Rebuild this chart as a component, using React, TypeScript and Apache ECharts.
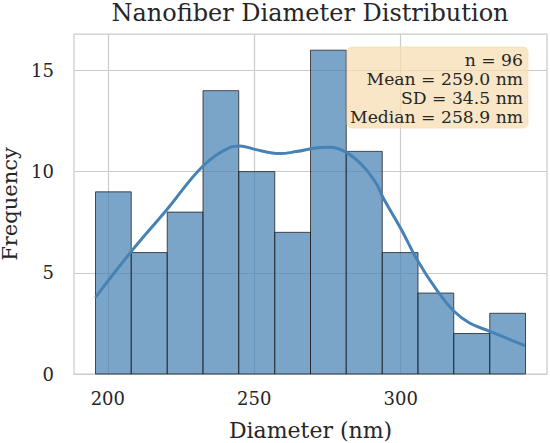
import React, { useEffect, useRef } from "react";
import * as echarts from "echarts";

// Histogram bin edges (nm) and counts per bin
const binEdges = [195.8, 208.0, 220.3, 232.5, 244.7, 257.0, 269.2, 281.4, 293.7, 305.9, 318.1, 330.4, 342.6];
const counts = [9, 6, 8, 14, 10, 7, 16, 11, 6, 4, 2, 3];

// Kernel density estimate, scaled to counts
const kdeX = [195.8, 208.1, 220.2, 232.5, 241.6, 245.1, 250.2, 258.7, 264.4, 272.4, 275.8, 281.5, 287.1, 291.7, 294.0, 300.2, 305.9, 312.2, 318.2, 323.5, 330.4, 342.4];
const kdeY = [3.79, 6.07, 8.13, 10.28, 11.19, 11.27, 11.1, 10.89, 10.99, 11.19, 11.2, 10.94, 10.28, 9.4, 8.71, 7.14, 5.57, 4.17, 3.1, 2.52, 2.11, 1.4];

const xTicks = [200, 250, 300];
const yTicks = [0, 5, 10, 15];

const statLines = ["n = 96", "Mean = 259.0 nm", "SD = 34.5 nm", "Median = 258.9 nm"];

const FONT = "DejaVu Serif";
const TEXT = "#262626";
const GRID = "#cccccc";

export default function App() {
  const ref = useRef<HTMLDivElement>(null);

  useEffect(() => {
    if (!ref.current) return;
    const chart = echarts.init(ref.current, null, { renderer: "svg" });

    const bars = counts.map((c, i) => [binEdges[i], binEdges[i + 1], c]);
    const kde = kdeX.map((x, i) => [x, kdeY[i]]);

    const boxLeft = 347;
    const boxTop = 47;
    const boxW = 181;
    const boxH = 81;

    chart.setOption({
      animation: false,
      backgroundColor: "#ffffff",
      textStyle: { fontFamily: FONT },
      grid: {
        left: 74,
        right: 3,
        top: 34,
        bottom: 69,
        containLabel: false,
        outerBoundsMode: "none",
        show: true,
        borderColor: GRID,
        borderWidth: 1.25,
        backgroundColor: "transparent",
      },
      xAxis: {
        type: "value",
        min: 188.46,
        max: 349.94,
        name: "Diameter (nm)",
        nameLocation: "middle",
        nameGap: 45,
        nameTextStyle: { fontFamily: FONT, fontSize: 22, color: TEXT },
        axisLine: { show: false },
        axisTick: { show: false, customValues: xTicks },
        axisLabel: { customValues: xTicks, fontFamily: FONT, fontSize: 18, color: TEXT, margin: 15 },
        splitLine: { show: true, lineStyle: { color: GRID, width: 1.2 } },
      },
      yAxis: {
        type: "value",
        min: 0,
        max: 16.8,
        interval: 5,
        name: "Frequency",
        nameLocation: "middle",
        nameGap: 50,
        nameTextStyle: { fontFamily: FONT, fontSize: 21, color: TEXT },
        axisLine: { show: false },
        axisTick: { show: false, customValues: yTicks },
        axisLabel: { customValues: yTicks, fontFamily: FONT, fontSize: 18, color: TEXT, margin: 20 },
        splitLine: { show: true, lineStyle: { color: GRID, width: 1.2 } },
      },
      series: [
        {
          type: "custom",
          data: bars,
          encode: { x: [0, 1], y: 2 },
          z: 2,
          renderItem: (_params: any, api: any) => {
            const top = api.coord([api.value(0), api.value(2)]);
            const bottom = api.coord([api.value(1), 0]);
            return {
              type: "rect",
              shape: { x: top[0], y: top[1], width: bottom[0] - top[0], height: bottom[1] - top[1] },
              style: { fill: "rgba(70,130,180,0.72)", stroke: "rgba(25,25,25,0.75)", lineWidth: 1 },
            };
          },
        },
        {
          type: "line",
          data: kde,
          smooth: 0.4,
          showSymbol: false,
          z: 3,
          lineStyle: { color: "#4682B4", width: 3 },
        },
      ],
      graphic: [
        {
          type: "text",
          z: 101,
          x: 310,
          y: 13,
          style: {
            text: "Nanofiber Diameter Distribution",
            fontFamily: FONT,
            fontSize: 24,
            fill: TEXT,
            textAlign: "center",
            textVerticalAlign: "middle",
          },
        },
        {
          type: "rect",
          z: 100,
          shape: { x: boxLeft, y: boxTop, width: boxW, height: boxH, r: 5 },
          style: { fill: "rgba(245,222,179,0.75)", stroke: "rgba(245,222,179,0.75)", lineWidth: 1 },
        },
        ...statLines.map((t, i) => ({
          type: "text",
          z: 101,
          x: 523,
          y: 60 + i * 19,
          style: {
            text: t,
            fontFamily: FONT,
            fontSize: 17.2,
            fill: TEXT,
            textAlign: "right",
            textVerticalAlign: "middle",
          },
        })),
      ],
    });

    return () => chart.dispose();
  }, []);

  return <div ref={ref} style={{ position: "absolute", left: 0, top: 0, width: 550, height: 443 }} />;
}
